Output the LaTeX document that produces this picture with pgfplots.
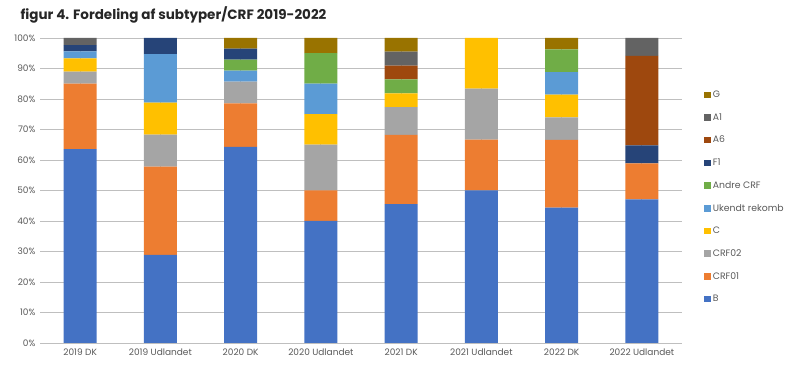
\documentclass[border=0pt]{standalone}
\usepackage{pgfplots}
\pgfplotsset{compat=1.18}
\usepackage{fontspec}
\setmainfont{Poppins}
\definecolor{cB}{HTML}{4472C4}
\definecolor{cCRF01}{HTML}{ED7D31}
\definecolor{cCRF02}{HTML}{A5A5A5}
\definecolor{cC}{HTML}{FFC000}
\definecolor{cUk}{HTML}{5B9BD5}
\definecolor{cAndre}{HTML}{70AD47}
\definecolor{cF1}{HTML}{264478}
\definecolor{cA6}{HTML}{9E480E}
\definecolor{cA1}{HTML}{636363}
\definecolor{cG}{HTML}{997300}
\definecolor{txt}{HTML}{595959}
\definecolor{grid}{HTML}{D9D9D9}
\begin{document}
\begin{tikzpicture}
\path[use as bounding box] (0,0) rectangle (800pt,369pt);
\node[anchor=west,font=\fontsize{13.5}{15}\selectfont\bfseries,text=black!85] at (17pt,354pt) {figur 4. Fordeling af subtyper/CRF 2019-2022};
\begin{axis}[
  at={(40pt,26pt)}, anchor=south west,
  scale only axis, width=642pt, height=305pt,
  ybar stacked, bar width=33pt,
  xmin=-0.5, xmax=7.5, ymin=0, ymax=100,
  xtick=data,
  xticklabels={2019 DK,2019 Udlandet,2020 DK,2020 Udlandet,2021 DK,2021 Udlandet,2022 DK,2022 Udlandet},
  ytick={0,10,...,100},
  yticklabel={\pgfmathprintnumber{\tick}\%},
  /pgf/number format/assume math mode=true,
  ymajorgrids, grid style={grid, line width=0.8pt},
  axis line style={draw=none},
  major tick length=0pt,
  tick label style={font=\fontsize{9}{10}\selectfont, text=txt},
  yticklabel style={xshift=-1pt},
  xticklabel style={yshift=-2pt},
  legend style={draw=none, at={(1.03,0.84)}, anchor=north west, font=\fontsize{9.3}{11}\selectfont, text=txt, row sep=10.4pt, fill=none},
  legend cell align=left,
  reverse legend,
  legend image code/.code={\fill[#1,draw=none] (0pt,-3.2pt) rectangle (6.4pt,3.2pt);},
  every axis plot/.append style={draw=none},
]
\addplot[fill=cB] coordinates {(0,63.6) (1,28.9) (2,64.3) (3,40) (4,45.5) (5,50) (6,44.4) (7,47.1)};
\addplot[fill=cCRF01] coordinates {(0,21.4) (1,28.9) (2,14.3) (3,10) (4,22.7) (5,16.7) (6,22.2) (7,11.8)};
\addplot[fill=cCRF02] coordinates {(0,4.0) (1,10.5) (2,7.1) (3,15) (4,9.1) (5,16.7) (6,7.4) (7,0)};
\addplot[fill=cC] coordinates {(0,4.3) (1,10.5) (2,0) (3,10) (4,4.55) (5,16.6) (6,7.4) (7,0)};
\addplot[fill=cUk] coordinates {(0,2.3) (1,15.9) (2,3.6) (3,10) (4,0) (5,0) (6,7.4) (7,0)};
\addplot[fill=cAndre] coordinates {(0,0) (1,0) (2,3.6) (3,10) (4,4.55) (5,0) (6,7.5) (7,0)};
\addplot[fill=cF1] coordinates {(0,2.1) (1,5.3) (2,3.6) (3,0) (4,0) (5,0) (6,0) (7,5.9)};
\addplot[fill=cA6] coordinates {(0,0) (1,0) (2,0) (3,0) (4,4.55) (5,0) (6,0) (7,29.3)};
\addplot[fill=cA1] coordinates {(0,2.3) (1,0) (2,0) (3,0) (4,4.55) (5,0) (6,0) (7,5.9)};
\addplot[fill=cG] coordinates {(0,0) (1,0) (2,3.5) (3,5) (4,4.55) (5,0) (6,3.7) (7,0)};
\legend{B,CRF01,CRF02,C,Ukendt rekomb,Andre CRF,F1,A6,A1,G}
\end{axis}
\end{tikzpicture}
\end{document}
